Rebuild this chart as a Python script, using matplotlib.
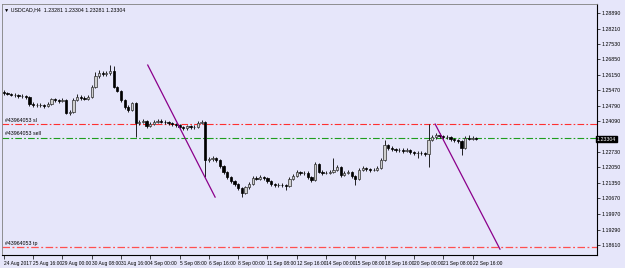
import numpy as np
import matplotlib.pyplot as plt

plt.rcParams['font.family'] = ['Liberation Sans', 'DejaVu Sans']

# USDCAD H4 candles, 24 Aug 2017 08:00 .. 22 Sep 2017 20:00
opens = [1.2540, 1.2535, 1.2530, 1.2526, 1.2526, 1.2522, 1.2522, 1.2517, 1.2486, 1.2482,
         1.2482, 1.2482, 1.2478, 1.2486, 1.2508, 1.2504, 1.2499, 1.2504, 1.2446, 1.2451,
         1.2504, 1.2517, 1.2513, 1.2510, 1.2517, 1.2561, 1.2610, 1.2624, 1.2619, 1.2624,
         1.2633, 1.2561, 1.2544, 1.2504, 1.2473, 1.2459, 1.2490, 1.2402, 1.2406, 1.2411,
         1.2388, 1.2397, 1.2406, 1.2411, 1.2408, 1.2406, 1.2402, 1.2397, 1.2393, 1.2384,
         1.2379, 1.2388, 1.2384, 1.2386, 1.2402, 1.2406, 1.2237, 1.2242, 1.2246, 1.2237,
         1.2211, 1.2184, 1.2162, 1.2144, 1.2131, 1.2113, 1.2091, 1.2117, 1.2131, 1.2157,
         1.2155, 1.2162, 1.2157, 1.2144, 1.2131, 1.2126, 1.2128, 1.2126, 1.2122, 1.2153,
         1.2166, 1.2184, 1.2180, 1.2182, 1.2162, 1.2148, 1.2220, 1.2184, 1.2180, 1.2182,
         1.2184, 1.2193, 1.2206, 1.2171, 1.2180, 1.2184, 1.2166, 1.2153, 1.2193, 1.2202,
         1.2197, 1.2193, 1.2195, 1.2202, 1.2237, 1.2304, 1.2291, 1.2286, 1.2282, 1.2284,
         1.2277, 1.2282, 1.2273, 1.2268, 1.2270, 1.2268, 1.2264, 1.2326, 1.2339, 1.2348,
         1.2344, 1.2339, 1.2341, 1.2331, 1.2326, 1.2322, 1.2291, 1.2335, 1.2333, 1.2335]
closes = [1.2535, 1.2530, 1.2526, 1.2526, 1.2522, 1.2522, 1.2517, 1.2486, 1.2482, 1.2482,
          1.2482, 1.2478, 1.2486, 1.2508, 1.2504, 1.2499, 1.2504, 1.2446, 1.2451, 1.2504,
          1.2517, 1.2513, 1.2510, 1.2517, 1.2561, 1.2610, 1.2624, 1.2619, 1.2624, 1.2633,
          1.2561, 1.2544, 1.2504, 1.2473, 1.2459, 1.2490, 1.2402, 1.2406, 1.2411, 1.2388,
          1.2397, 1.2406, 1.2411, 1.2408, 1.2406, 1.2402, 1.2397, 1.2393, 1.2384, 1.2379,
          1.2388, 1.2384, 1.2386, 1.2402, 1.2406, 1.2237, 1.2242, 1.2246, 1.2237, 1.2211,
          1.2184, 1.2162, 1.2144, 1.2131, 1.2113, 1.2091, 1.2117, 1.2131, 1.2157, 1.2155,
          1.2162, 1.2157, 1.2144, 1.2131, 1.2126, 1.2128, 1.2126, 1.2122, 1.2153, 1.2166,
          1.2184, 1.2180, 1.2182, 1.2162, 1.2148, 1.2220, 1.2184, 1.2180, 1.2182, 1.2184,
          1.2193, 1.2206, 1.2171, 1.2180, 1.2184, 1.2166, 1.2153, 1.2193, 1.2202, 1.2197,
          1.2193, 1.2195, 1.2202, 1.2237, 1.2304, 1.2291, 1.2286, 1.2282, 1.2284, 1.2277,
          1.2282, 1.2273, 1.2268, 1.2270, 1.2268, 1.2264, 1.2326, 1.2339, 1.2348, 1.2344,
          1.2339, 1.2341, 1.2331, 1.2326, 1.2322, 1.2291, 1.2335, 1.2333, 1.2335, 1.2330]
highs = [1.2548, 1.2541, 1.2537, 1.2534, 1.2531, 1.2529, 1.2528, 1.2522, 1.2493, 1.2490,
         1.2489, 1.2488, 1.2493, 1.2515, 1.2514, 1.2510, 1.2512, 1.2508, 1.2460, 1.2512,
         1.2530, 1.2524, 1.2520, 1.2526, 1.2570, 1.2628, 1.2635, 1.2632, 1.2633, 1.2659,
         1.2655, 1.2568, 1.2550, 1.2510, 1.2480, 1.2497, 1.2495, 1.2415, 1.2420, 1.2416,
         1.2406, 1.2414, 1.2419, 1.2418, 1.2415, 1.2412, 1.2408, 1.2404, 1.2398, 1.2390,
         1.2395, 1.2394, 1.2393, 1.2410, 1.2415, 1.2410, 1.2250, 1.2255, 1.2252, 1.2242,
         1.2216, 1.2190, 1.2168, 1.2150, 1.2137, 1.2118, 1.2124, 1.2140, 1.2166, 1.2166,
         1.2171, 1.2168, 1.2162, 1.2150, 1.2137, 1.2136, 1.2135, 1.2133, 1.2160, 1.2175,
         1.2193, 1.2191, 1.2190, 1.2187, 1.2168, 1.2228, 1.2226, 1.2192, 1.2190, 1.2192,
         1.2246, 1.2214, 1.2211, 1.2188, 1.2192, 1.2190, 1.2172, 1.2200, 1.2211, 1.2208,
         1.2203, 1.2203, 1.2210, 1.2245, 1.2326, 1.2310, 1.2298, 1.2293, 1.2292, 1.2290,
         1.2290, 1.2288, 1.2279, 1.2277, 1.2276, 1.2274, 1.2397, 1.2350, 1.2359, 1.2356,
         1.2350, 1.2350, 1.2346, 1.2337, 1.2333, 1.2328, 1.2344, 1.2348, 1.2342, 1.2338]
lows = [1.2528, 1.2524, 1.2520, 1.2519, 1.2515, 1.2514, 1.2510, 1.2479, 1.2474, 1.2475,
        1.2474, 1.2470, 1.2472, 1.2480, 1.2497, 1.2492, 1.2494, 1.2440, 1.2438, 1.2447,
        1.2498, 1.2506, 1.2503, 1.2505, 1.2512, 1.2556, 1.2603, 1.2612, 1.2612, 1.2617,
        1.2555, 1.2538, 1.2497, 1.2466, 1.2452, 1.2455, 1.2339, 1.2395, 1.2400, 1.2380,
        1.2383, 1.2392, 1.2401, 1.2402, 1.2399, 1.2394, 1.2390, 1.2385, 1.2376, 1.2370,
        1.2373, 1.2377, 1.2376, 1.2381, 1.2397, 1.2162, 1.2228, 1.2235, 1.2230, 1.2204,
        1.2177, 1.2155, 1.2137, 1.2122, 1.2104, 1.2073, 1.2085, 1.2110, 1.2126, 1.2148,
        1.2149, 1.2150, 1.2137, 1.2124, 1.2119, 1.2119, 1.2117, 1.2106, 1.2117, 1.2148,
        1.2160, 1.2173, 1.2173, 1.2155, 1.2140, 1.2143, 1.2178, 1.2173, 1.2174, 1.2175,
        1.2178, 1.2188, 1.2164, 1.2165, 1.2174, 1.2159, 1.2126, 1.2148, 1.2187, 1.2190,
        1.2186, 1.2187, 1.2189, 1.2196, 1.2231, 1.2284, 1.2279, 1.2275, 1.2275, 1.2270,
        1.2271, 1.2266, 1.2261, 1.2246, 1.2261, 1.2256, 1.2206, 1.2320, 1.2332, 1.2336,
        1.2331, 1.2333, 1.2324, 1.2319, 1.2315, 1.2260, 1.2285, 1.2326, 1.2327, 1.2328]

time_labels = ["24 Aug 2017", "25 Aug 16:00", "29 Aug 00:00", "30 Aug 08:00", "31 Aug 16:00",
               "4 Sep 00:00", "5 Sep 08:00", "6 Sep 16:00", "8 Sep 00:00", "11 Sep 08:00",
               "12 Sep 16:00", "14 Sep 00:00", "15 Sep 08:00", "18 Sep 16:00", "20 Sep 00:00",
               "21 Sep 08:00", "22 Sep 16:00"]
label_bars = [0, 8, 16, 24, 32, 40, 48, 56, 64, 72, 80, 88, 96, 104, 112, 120, 128]

price_ticks = [1.28890, 1.28210, 1.27530, 1.26850, 1.26150, 1.25470, 1.24790, 1.24090,
               1.22730, 1.22050, 1.21350, 1.20670, 1.19970, 1.19290, 1.18610]

sl_price = 1.2397
sell_price = 1.2335
tp_price = 1.1851
last_price = 1.23304

# trend lines (bar index, price)
trend1 = ([39.3, 57.7], [1.2659, 1.2073])
trend2 = ([117.8, 135.5], [1.2397, 1.1842])

bg = '#e6e6fa'
fig = plt.figure(figsize=(6.25, 2.68), dpi=100, facecolor=bg)
ax = fig.add_axes([2 / 625, 13 / 268, 595 / 625, 251 / 268], facecolor=bg)

o = np.array(opens)
c = np.array(closes)
x = np.arange(len(o))
up = c >= o

ax.vlines(x, lows, highs, color='black', linewidth=0.6, zorder=2)
ax.bar(x[up], (c - o)[up], bottom=o[up], width=0.62, color='#cfcfcf',
       edgecolor='#303030', linewidth=0.5, zorder=3)
ax.bar(x[~up], (o - c)[~up], bottom=c[~up], width=0.62, color='black',
       edgecolor='black', linewidth=0.5, zorder=3)

dashdot = (0, (6, 2, 1.5, 2))
ax.axhline(sl_price, color='#ff3030', linestyle=dashdot, linewidth=0.8, zorder=1)
ax.axhline(sell_price, color='#1e9e1e', linestyle=dashdot, linewidth=0.8, zorder=1)
ax.axhline(tp_price, color='#ff5050', linestyle=dashdot, linewidth=0.9, zorder=1)

ax.plot(trend1[0], trend1[1], color='#8b008b', linewidth=0.9, zorder=4)
ax.plot(trend2[0], trend2[1], color='#8b008b', linewidth=0.9, zorder=4)

fs = 3.8
ax.text(0.3, sl_price + 0.0007, "#43964053 sl", fontsize=fs, va='bottom')
ax.text(0.3, sell_price + 0.0007, "#43964053 sell", fontsize=fs, va='bottom')
ax.text(0.3, tp_price + 0.0007, "#43964053 tp", fontsize=fs, va='bottom')
ax.text(0.004, 0.985, "\u25bc USDCAD,H4  1.23281 1.23304 1.23281 1.23304",
        transform=ax.transAxes, fontsize=fs, va='top')

ax.set_xlim(-0.5, 162)
ax.set_ylim(1.1816, 1.2930)

ax.yaxis.tick_right()
ax.set_yticks(price_ticks)
ax.set_yticklabels(["%.5f" % p for p in price_ticks])
ax.tick_params(axis='y', length=2, width=0.5, labelsize=fs, pad=1.5)
ax.set_xticks(label_bars)
ax.set_xticklabels(time_labels, ha='left')
ax.tick_params(axis='x', length=3, width=0.5, labelsize=3.5, pad=1)

ax.text(1.0, last_price, "%.5f" % last_price, transform=ax.get_yaxis_transform(),
        fontsize=fs, color='white', va='center', ha='left',
        bbox=dict(boxstyle='square,pad=0.15', facecolor='black', edgecolor='black'))

for side in ['left', 'top']:
    ax.spines[side].set_color('#808080')
    ax.spines[side].set_linewidth(0.6)
for side in ['right', 'bottom']:
    ax.spines[side].set_color('black')
    ax.spines[side].set_linewidth(0.8)

fig.savefig("out.png", dpi=100, facecolor=bg)
